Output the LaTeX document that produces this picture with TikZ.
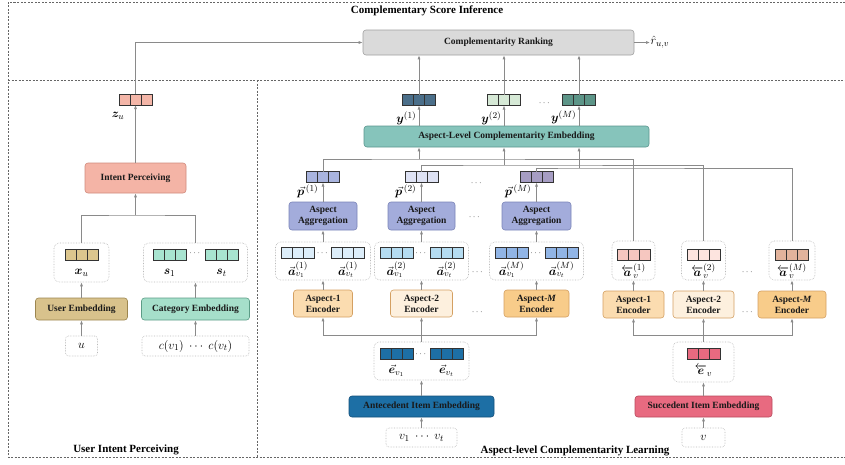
\documentclass[tikz,border=0pt]{standalone}
\usepackage{fontspec}
\setmainfont{Liberation Serif}
\usepackage{amsmath,bm}
\usetikzlibrary{arrows.meta,calc}
\definecolor{czu}{HTML}{F4B6A8}
\definecolor{cint}{HTML}{F4B4A6}
\definecolor{cintd}{HTML}{D08A7C}
\definecolor{cxu}{HTML}{DCC68E}
\definecolor{cs}{HTML}{A8E4D0}
\definecolor{cue}{HTML}{D8C28C}
\definecolor{cued}{HTML}{9C8650}
\definecolor{cce}{HTML}{A6DFCA}
\definecolor{cced}{HTML}{5C9C86}
\definecolor{crank}{HTML}{DADADA}
\definecolor{crankd}{HTML}{A0A0A0}
\definecolor{cace}{HTML}{86C4BB}
\definecolor{caced}{HTML}{5A968E}
\definecolor{cya}{HTML}{4B6F8A}
\definecolor{cyb}{HTML}{D6E9D6}
\definecolor{cyc}{HTML}{5D9588}
\definecolor{cpa}{HTML}{A9B4DE}
\definecolor{cpb}{HTML}{DEE2F4}
\definecolor{cpc}{HTML}{A69DC3}
\definecolor{cagg}{HTML}{A3ACDB}
\definecolor{caggd}{HTML}{7A84B8}
\definecolor{caa}{HTML}{DCEDF9}
\definecolor{cab}{HTML}{B5DCF1}
\definecolor{cac}{HTML}{91B5E6}
\definecolor{cenca}{HTML}{FBDCB0}
\definecolor{cencb}{HTML}{FDF0DE}
\definecolor{cencc}{HTML}{F8CC8A}
\definecolor{cencd}{HTML}{D4A062}
\definecolor{cava}{HTML}{F6C7C0}
\definecolor{cavb}{HTML}{FDE4DF}
\definecolor{cavc}{HTML}{E2B39C}
\definecolor{cant}{HTML}{1D6FA5}
\definecolor{cantd}{HTML}{14507A}
\definecolor{csucc}{HTML}{E86A80}
\definecolor{csuccd}{HTML}{B84A5C}
\definecolor{lncol}{HTML}{8A8A8A}
\tikzset{
  cells/.style={draw=black!80, fill=#1, line width=0.6pt, minimum width=33pt, minimum height=11pt, inner sep=0pt, outer sep=0pt,
    path picture={
      \draw[black!80, line width=0.6pt]
        ([xshift=11pt]path picture bounding box.north west) -- ([xshift=11pt]path picture bounding box.south west)
        ([xshift=-11pt]path picture bounding box.north east) -- ([xshift=-11pt]path picture bounding box.south east);
    }},
  blk/.style={draw, rounded corners=3pt, line width=0.6pt, inner sep=1pt, align=center, text=black!90,
    font=\bfseries\fontsize{9.5}{11}\selectfont},
  grp/.style={draw=gray!55, densely dotted, line width=0.6pt, rounded corners=5pt, inner sep=0pt},
  inp/.style={draw=gray!55, densely dotted, line width=0.6pt, rounded corners=3pt, inner sep=1pt, font=\fontsize{13}{15}\selectfont},
  lbl/.style={inner sep=0.5pt, font=\fontsize{12.5}{14}\selectfont},
  dots/.style={inner sep=0pt, font=\fontsize{9}{10}\selectfont, text=black!80},
  ttl/.style={inner sep=0pt, font=\bfseries\fontsize{11}{13}\selectfont},
  ln/.style={draw=lncol, line width=0.7pt},
  arr/.style={draw=lncol, line width=0.7pt, -{Latex[length=4pt,width=3pt]}},
  frame/.style={draw=gray!80!black, line width=0.6pt, dash pattern=on 2pt off 1.5pt},
}
\begin{document}
\begin{tikzpicture}[x=1pt,y=-1pt]
\useasboundingbox (0,0) rectangle (845,464);
% frames
\draw[frame] (845,2) -- (8,2) -- (8,457) -- (845,457);
\draw[frame] (8,80) -- (845,80);
\draw[frame] (257,80) -- (257,457);
\node[ttl] (t1) at (427,11) {Complementary Score Inference};
\node[ttl] (t2) at (126,450) {User Intent Perceiving};
\node[ttl] (t3) at (575,451) {Aspect-level Complementarity Learning};

% ---------- left panel
\node[cells=czu] (zu) at (135.5,99.5) {};
\node[lbl] (zul) at (118,116) {$\bm{z}_u$};
\node[blk, fill=cint, draw=cintd, minimum width=101pt, minimum height=30pt] (intent) at (135.5,178) {Intent Perceiving};
\coordinate (jl) at (135.5,215);
\node[grp, minimum width=55pt, minimum height=39pt] (xg) at (81.5,262.5) {};
\node[cells=cxu] (xu) at (81.5,255) {};
\node[lbl] (xul) at (81.5,273) {$\bm{x}_u$};
\node[grp, minimum width=104pt, minimum height=39pt] (sgrp) at (195.5,262.5) {};
\node[cells=cs] (s1) at (169.5,255) {};
\node[cells=cs] (st) at (221.5,255) {};
\node[dots] (sd) at (195.5,253) {$\cdots$};
\node[lbl] (s1l) at (169.5,273) {$\bm{s}_1$};
\node[lbl] (stl) at (221.5,273) {$\bm{s}_t$};
\node[blk, fill=cue, draw=cued, minimum width=92pt, minimum height=22pt] (ue) at (81.5,309) {User Embedding};
\node[blk, fill=cce, draw=cced, minimum width=108pt, minimum height=22pt] (ce) at (195.5,309) {Category Embedding};
\node[inp, minimum width=32pt, minimum height=20pt] (u) at (81.5,346) {$u$};
\node[inp, minimum width=107pt, minimum height=20pt] (c) at (195.5,346) {$c(v_1)\;\cdots\;c(v_t)$};
\draw[arr] (u) -- (ue);
\draw[arr] (c) -- (ce);
\draw[arr] (ue) -- (xg);
\draw[arr] (ce) -- (sgrp);
\draw[ln] (xg.north) |- (jl) -| (sgrp.north);
\draw[arr] (jl) -- (intent.south);
\draw[arr] (intent) -- (zu);

% ---------- top
\node[blk, fill=crank, draw=crankd, minimum width=271pt, minimum height=25pt] (rank) at (498.5,42.5) {Complementarity Ranking};
\node[lbl, anchor=west] (rhat) at (650,42.5) {$\hat{r}_{u,v}$};
\draw[arr] (rank.east) -- (rhat.west);
\draw[arr] (zu.north) |- (rank.west);

\node[blk, fill=cace, draw=caced, minimum width=285pt, minimum height=21pt] (ace) at (506.5,136.5) {Aspect-Level Complementarity Embedding};

\node[cells=cya] (y1) at (419,100) {};
\node[cells=cyb] (y2) at (504,100) {};
\node[cells=cyc] (yM) at (579,100) {};
\node[lbl, anchor=east] (y1l) at (417,118) {$\bm{y}^{(1)}$};
\node[lbl, anchor=east] (y2l) at (502,118) {$\bm{y}^{(2)}$};
\node[lbl, anchor=east] (yMl) at (577,117) {$\bm{y}^{(M)}$};
\node[dots] (yd) at (545,103) {$\cdots$};
\foreach \v in {y1,y2,yM}{
  \draw[arr] (ace.north -| \v) -- (\v);
  \draw[arr] (\v) -- (\v |- rank.south);
}

% ---------- antecedent columns
\node[cells=cpa] (p1) at (323,177) {};
\node[cells=cpb] (p2) at (421.5,177) {};
\node[cells=cpc] (pM) at (536.5,177) {};
\node[lbl, anchor=east] (p1l) at (319,191) {${\vec{\bm p}}^{\,(1)}$};
\node[lbl, anchor=east] (p2l) at (417,191) {${\vec{\bm p}}^{\,(2)}$};
\node[lbl, anchor=east] (pMl) at (532,191) {${\vec{\bm p}}^{\,(M)}$};
\node[dots] (pd) at (477,183) {$\cdots$};

\node[blk, fill=cagg, draw=caggd, minimum width=68pt, minimum height=28pt] (agg1) at (323,216) {Aspect\\Aggregation};
\node[blk, fill=cagg, draw=caggd, minimum width=67pt, minimum height=28pt] (agg2) at (421.5,216) {Aspect\\Aggregation};
\node[blk, fill=cagg, draw=caggd, minimum width=69pt, minimum height=28pt] (agg3) at (536.5,216) {Aspect\\Aggregation};
\node[dots] (ad) at (475,217) {$\cdots$};

\node[grp, minimum width=95pt, minimum height=38pt] (g1) at (323,261) {};
\node[grp, minimum width=94pt, minimum height=38pt] (g2) at (421.5,261) {};
\node[grp, minimum width=94pt, minimum height=38pt] (g3) at (536.5,261) {};
\node[dots] (gd) at (478,272) {$\cdots$};
\node[cells=caa] (g1a) at (298,253) {};
\node[cells=caa] (g1b) at (348,253) {};
\node[dots] (g1d) at (323,253) {$\cdots$};
\node[lbl] (g1al) at (298,270) {$\vec{\bm a}_{v_1}^{(1)}$};
\node[lbl] (g1bl) at (348,270) {$\vec{\bm a}_{v_t}^{(1)}$};
\node[cells=cab] (g2a) at (396.5,253) {};
\node[cells=cab] (g2b) at (446.5,253) {};
\node[dots] (g2d) at (421.5,253) {$\cdots$};
\node[lbl] (g2al) at (396.5,270) {$\vec{\bm a}_{v_1}^{(2)}$};
\node[lbl] (g2bl) at (446.5,270) {$\vec{\bm a}_{v_t}^{(2)}$};
\node[cells=cac] (g3a) at (511.5,253) {};
\node[cells=cac] (g3b) at (561.5,253) {};
\node[dots] (g3d) at (536.5,253) {$\cdots$};
\node[lbl] (g3al) at (511.5,270) {$\vec{\bm a}_{v_1}^{(M)}$};
\node[lbl] (g3bl) at (561.5,270) {$\vec{\bm a}_{v_t}^{(M)}$};

\node[blk, fill=cenca, draw=cencd, minimum width=59pt, minimum height=27pt] (enc1) at (323,303.5) {Aspect-1\\Encoder};
\node[blk, fill=cencb, draw=cencd, minimum width=62pt, minimum height=27pt] (enc2) at (421.5,303.5) {Aspect-2\\Encoder};
\node[blk, fill=cencc, draw=cencd, minimum width=65pt, minimum height=27pt] (encM) at (536.5,303.5) {Aspect-\textit{M}\\Encoder};
\node[dots] (ed) at (478,312) {$\cdots$};

\node[grp, minimum width=95pt, minimum height=38pt] (eg) at (421.5,361) {};
\node[cells=cant] (ea) at (396.5,354) {};
\node[cells=cant] (eb) at (446.5,354) {};
\node[dots] (edd) at (421.5,354) {$\cdots$};
\node[lbl] (eal) at (396.5,371) {$\vec{\bm e}_{v_1}$};
\node[lbl] (ebl) at (446.5,371) {$\vec{\bm e}_{v_t}$};
\node[blk, fill=cant, draw=cantd, minimum width=145pt, minimum height=21pt] (ant) at (421.5,406.5) {Antecedent Item Embedding};
\node[inp, minimum width=71pt, minimum height=19pt] (vin) at (421.5,437.5) {$v_1\;\cdots\;v_t$};

\draw[arr] (vin) -- (ant);
\draw[arr] (ant) -- (eg);
\coordinate (ej) at (421.5,335);
\draw[arr] (eg) -- (enc2);
\draw[arr] (ej) -| (enc1.south);
\draw[arr] (ej) -| (encM.south);
\draw[arr] (enc1) -- (g1);
\draw[arr] (enc2) -- (g2);
\draw[arr] (encM) -- (g3);
\draw[arr] (g1) -- (agg1);
\draw[arr] (g2) -- (agg2);
\draw[arr] (g3) -- (agg3);
\draw[arr] (agg1) -- (p1);
\draw[arr] (agg2) -- (p2);
\draw[arr] (agg3) -- (pM);

% ---------- succedent columns
\node[grp, minimum width=43pt, minimum height=39pt] (av1g) at (633.5,260.5) {};
\node[grp, minimum width=44pt, minimum height=39pt] (av2g) at (703.5,260.5) {};
\node[grp, minimum width=46pt, minimum height=39pt] (avMg) at (792,260.5) {};
\node[cells=cava] (av1) at (633.5,254.5) {};
\node[cells=cavb] (av2) at (703.5,254.5) {};
\node[cells=cavc] (avM) at (792,254.5) {};
\node[lbl] (av1l) at (633.5,271) {$\overleftarrow{\bm a}_{v}^{(1)}$};
\node[lbl] (av2l) at (703.5,271) {$\overleftarrow{\bm a}_{v}^{(2)}$};
\node[lbl] (avMl) at (792,271) {$\overleftarrow{\bm a}_{v}^{(M)}$};
\node[dots] (avd) at (748,272) {$\cdots$};

\node[blk, fill=cenca, draw=cencd, minimum width=61pt, minimum height=27pt] (senc1) at (633.5,304.5) {Aspect-1\\Encoder};
\node[blk, fill=cencb, draw=cencd, minimum width=61pt, minimum height=27pt] (senc2) at (703.5,304.5) {Aspect-2\\Encoder};
\node[blk, fill=cencc, draw=cencd, minimum width=68pt, minimum height=27pt] (sencM) at (792,304.5) {Aspect-\textit{M}\\Encoder};
\node[dots] (sed) at (748,312) {$\cdots$};

\node[grp, minimum width=61pt, minimum height=40pt] (evg) at (703.5,362) {};
\node[cells=csucc] (ev) at (703.5,354) {};
\node[lbl] (evl) at (703.5,371) {$\overleftarrow{\bm e}_{v}$};
\node[blk, fill=csucc, draw=csuccd, minimum width=137pt, minimum height=21pt] (succ) at (703.5,406.5) {Succedent Item Embedding};
\node[inp, minimum width=43pt, minimum height=19pt] (vs) at (703.5,437.5) {$v$};

\draw[arr] (vs) -- (succ);
\draw[arr] (succ) -- (evg);
\coordinate (sj) at (703.5,335);
\draw[arr] (evg) -- (senc2);
\draw[arr] (sj) -| (senc1.south);
\draw[arr] (sj) -| (sencM.south);
\draw[arr] (senc1) -- (av1g);
\draw[arr] (senc2) -- (av2g);
\draw[arr] (sencM) -- (avMg);

% ---------- aspect-level joins
\coordinate (j1) at (419,159);
\coordinate (j2) at (504,165);
\coordinate (j3) at (579,168);
\draw[ln] (p1.north) |- (j1) -| (av1g.north);
\draw[ln] (p2.north) |- (j2) -| (av2g.north);
\draw[ln] (pM.north) |- (j3) -| (avMg.north);
\draw[arr] (j1) -- (j1 |- ace.south);
\draw[arr] (j2) -- (j2 |- ace.south);
\draw[arr] (j3) -- (j3 |- ace.south);
\end{tikzpicture}
\end{document}
